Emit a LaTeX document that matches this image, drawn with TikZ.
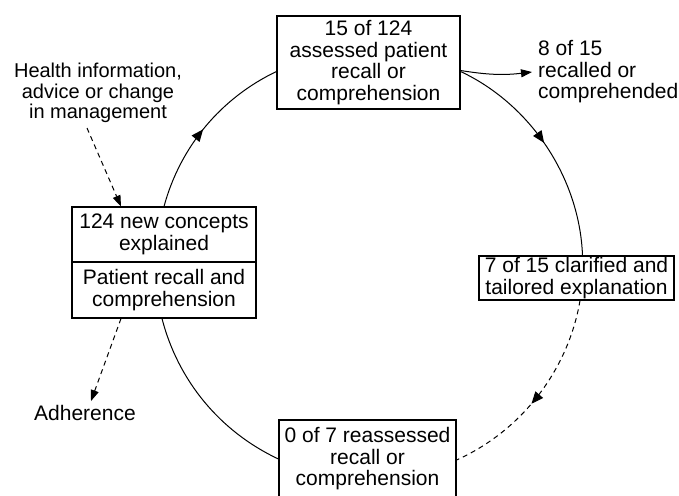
\documentclass[tikz,border=0pt]{standalone}
\usepackage{fontspec}
\setmainfont{Liberation Sans}
\usetikzlibrary{arrows.meta,decorations.markings}
\begin{document}
\begin{tikzpicture}[x=1pt,y=1pt,
  box/.style={draw,line width=1.1pt,inner sep=0pt,align=center,font=\fontsize{21}{21.5}\selectfont},
  lbl/.style={inner sep=0pt,font=\fontsize{21}{21.5}\selectfont},
  flow/.style={line width=1pt},
  dsh/.style={dash pattern=on 5pt off 4pt},
  tip/.style={-{Triangle[length=11pt,width=8pt]}},
  midarrow/.style={postaction={decorate},decoration={markings,mark=at position #1 with {\arrow{Triangle[length=12pt,width=10pt]}}}}
]
\clip (0,0) rectangle (679,495);
% boxes
\node[box,minimum width=183pt,minimum height=93pt] (top) at (368.5,432.5) {15 of 124\\assessed patient\\recall or\\comprehension};
\node[box,minimum width=184pt,minimum height=55pt] (lu) at (164,260.5) {124 new concepts\\explained};
\node[box,minimum width=184pt,minimum height=56pt] (ll) at (164,205) {Patient recall and\\comprehension};
\node[box,minimum width=195pt,minimum height=44pt] (rt) at (576.5,217) {7 of 15 clarified and\\tailored explanation};
\node[box,minimum width=177pt,minimum height=78pt] (bt) at (367.5,36) {0 of 7 reassessed\\recall or\\comprehension};
% labels
\node[lbl,align=center,font=\fontsize{20}{20.5}\selectfont] (health) at (98,402) {Health information,\\advice or change\\in management};
\node[lbl,align=left,anchor=west] (eight) at (538,423) {8 of 15\\recalled or\\comprehended};
\node[lbl] (adh) at (85,82) {Adherence};
% cycle arcs
\draw[flow,midarrow=0.48] (lu.north) to[bend left=24.65,looseness=0.9] ([yshift=-9pt]top.west);
\draw[flow,midarrow=0.48] ([yshift=-9pt]top.east) to[bend left=31.35,looseness=0.9] ([xshift=6pt]rt.north);
\draw[flow,dsh,midarrow=0.55] ([xshift=3.5pt]rt.south) to[bend left=28.15,looseness=0.9] ([yshift=-1pt]bt.east);
\draw[flow] (bt.west) to[bend left=25.25,looseness=0.9] ([xshift=-2pt]ll.south);
% side arrows
\draw[flow,tip] ([yshift=-8pt]top.east) to[bend right=8] ([xshift=-6pt]eight.west);
\draw[flow,dsh,tip] ([xshift=-11pt,yshift=-5pt]health.south) -- ([xshift=-43pt]lu.north);
\draw[flow,dsh,tip] ([xshift=-43pt]ll.south) -- ([xshift=6pt,yshift=4pt]adh.north);
\end{tikzpicture}
\end{document}
